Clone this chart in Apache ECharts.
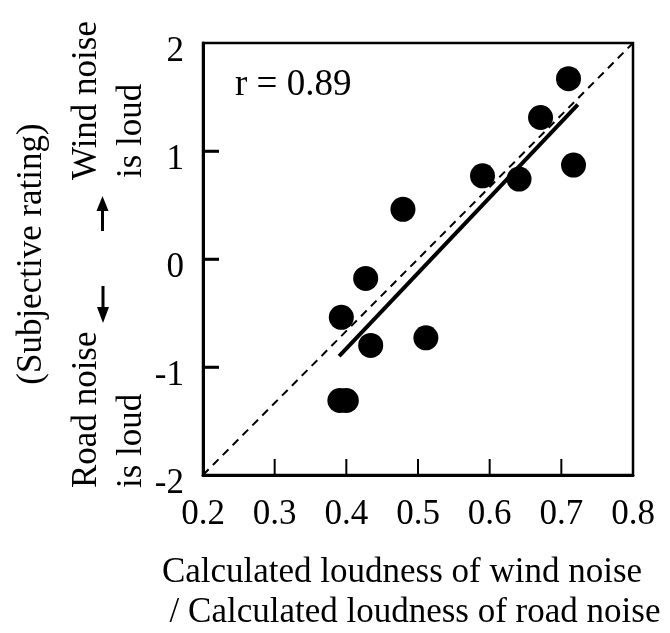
<!DOCTYPE html>
<html>
<head>
<meta charset="utf-8">
<script src="https://cdn.jsdelivr.net/npm/echarts@6/dist/echarts.min.js"></script>
<style>
  html, body { margin: 0; padding: 0; background: #fff; }
  #chart { width: 670px; height: 633px; }
</style>
</head>
<body>
<div id="chart"></div>
<script>
  // 测量点：计算响度比 vs 主观评价
  const ratioX = [0.710, 0.671, 0.717, 0.590, 0.641, 0.479, 0.427, 0.393, 0.434, 0.511, 0.391, 0.400]
  const ratingY = [1.67, 1.31, 0.87, 0.77, 0.74, 0.46, -0.18, -0.54, -0.80, -0.73, -1.31, -1.31]
  // 回归直线的两个端点
  const fitX = [0.390, 0.723]
  const fitY = [-0.90, 1.43]
  // 虚线 (对角线)
  const diagX = [0.2, 0.8]
  const diagY = [-2, 2]
  const xTicks = [0.2, 0.3, 0.4, 0.5, 0.6, 0.7, 0.8]
  const yTicks = [-2, -1, 0, 1, 2]

  const serif = '"Liberation Serif", "Times New Roman", serif'
  const pair = (xs, ys) => xs.map((x, i) => [x, ys[i]])
  const xMin = xTicks[0], xMax = xTicks[xTicks.length - 1]
  const yMin = yTicks[0], yMax = yTicks[yTicks.length - 1]
  const TICK_LEN = 16
  const GRID_W = 430

  // y轴刻度长度换算成数据单位 (16px)
  const yTickSpan = TICK_LEN / GRID_W * (xMax - xMin)

  const textStyle = (text, extra) => Object.assign({ text: text, font: '35px ' + serif, fill: '#000' }, extra)

  const baseGraphic = [
    { type: 'text', left: 235, top: 67, style: textStyle('r = 0.89', { font: '37px ' + serif }) },
    { type: 'text', x: 402, y: 573, style: textStyle('Calculated loudness of wind noise', { align: 'center', verticalAlign: 'middle' }) },
    { type: 'text', x: 415, y: 613, style: textStyle('/ Calculated loudness of road noise', { align: 'center', verticalAlign: 'middle' }) },
    { type: 'text', x: 32, y: 254, rotation: Math.PI / 2, style: textStyle('(Subjective rating)', { align: 'center', verticalAlign: 'middle' }) },
    { type: 'text', x: 87, y: 180, rotation: Math.PI / 2, style: textStyle('Wind noise', { align: 'left', verticalAlign: 'middle' }) },
    { type: 'text', x: 132, y: 178, rotation: Math.PI / 2, style: textStyle('is loud', { align: 'left', verticalAlign: 'middle' }) },
    { type: 'text', x: 87, y: 488, rotation: Math.PI / 2, style: textStyle('Road noise', { align: 'left', verticalAlign: 'middle' }) },
    { type: 'text', x: 132, y: 488, rotation: Math.PI / 2, style: textStyle('is loud', { align: 'left', verticalAlign: 'middle' }) },
    // 箭头
    { type: 'line', shape: { x1: 102.5, y1: 231, x2: 102.5, y2: 206 }, style: { stroke: '#000', lineWidth: 3 } },
    { type: 'polygon', shape: { points: [[102.5, 196], [96.5, 211], [108.5, 211]] }, style: { fill: '#000' } },
    { type: 'line', shape: { x1: 103, y1: 286, x2: 103, y2: 312 }, style: { stroke: '#000', lineWidth: 3 } },
    { type: 'polygon', shape: { points: [[103, 323], [97, 307], [109, 307]] }, style: { fill: '#000' } }
  ]

  const chart = echarts.init(document.getElementById('chart'))
  const option = {
    animation: false,
    backgroundColor: '#fff',
    grid: {
      left: 203, top: 43, width: GRID_W, height: 432,
      show: true, borderColor: '#000', borderWidth: 2.5, backgroundColor: 'transparent'
    },
    xAxis: {
      type: 'value', min: xMin, max: xMax, interval: 0.1,
      axisLine: { onZero: false, lineStyle: { color: '#000', width: 3 } },
      axisTick: { show: false },
      axisLabel: {
        color: '#000', fontFamily: serif, fontSize: 35, margin: 22,
        formatter: (v) => v.toFixed(1)
      },
      splitLine: { show: false }
    },
    yAxis: {
      type: 'value', min: yMin, max: yMax, interval: 1,
      axisLine: { onZero: false, lineStyle: { color: '#000', width: 3 } },
      axisTick: { show: false },
      axisLabel: {
        color: '#000', fontFamily: serif, fontSize: 35, margin: 19,
        verticalAlign: 'top', lineHeight: 18
      },
      splitLine: { show: false }
    },
    series: [
      {
        type: 'line', data: pair(diagX, diagY), symbol: 'none', z: 2,
        lineStyle: { color: '#000', width: 2, type: [8, 6] }
      },
      {
        type: 'line', data: pair(fitX, fitY), symbol: 'none', z: 3,
        lineStyle: { color: '#000', width: 4 }
      },
      {
        type: 'scatter', data: pair(ratioX, ratingY), symbolSize: 25, z: 4,
        itemStyle: { color: '#000', opacity: 1 },
        // y轴向内刻度 (markLine)
        markLine: {
          silent: true, symbol: 'none', animation: false,
          label: { show: false },
          lineStyle: { color: '#000', width: 2.5, type: 'solid', opacity: 1 },
          emphasis: { disabled: true },
          data: yTicks.slice(1, -1).map((v) => [
            { coord: [xMin, v] },
            { coord: [xMin + yTickSpan, v] }
          ])
        }
      }
    ],
    graphic: baseGraphic
  }
  chart.setOption(option)

  // x轴向内刻度：用坐标轴换算出像素位置
  const toPx = (pt) => chart.convertToPixel({ gridIndex: 0 }, pt)
  const tickGraphic = []
  xTicks.slice(1, -1).forEach((v) => {
    const p = toPx([v, yMin])
    tickGraphic.push({ type: 'line', z: 10, shape: { x1: p[0], y1: p[1], x2: p[0], y2: p[1] - TICK_LEN }, style: { stroke: '#000', lineWidth: 2 } })
  })
  yTicks.slice(1, -1).forEach((v) => {
    const p = toPx([xMin, v])
    tickGraphic.push({ type: 'rect', z: 10, shape: { x: p[0], y: p[1] - 1.25, width: TICK_LEN, height: 2.5 }, style: { fill: '#000' } })
  })
  chart.setOption({ graphic: baseGraphic.concat(tickGraphic) })
</script>
</body>
</html>
